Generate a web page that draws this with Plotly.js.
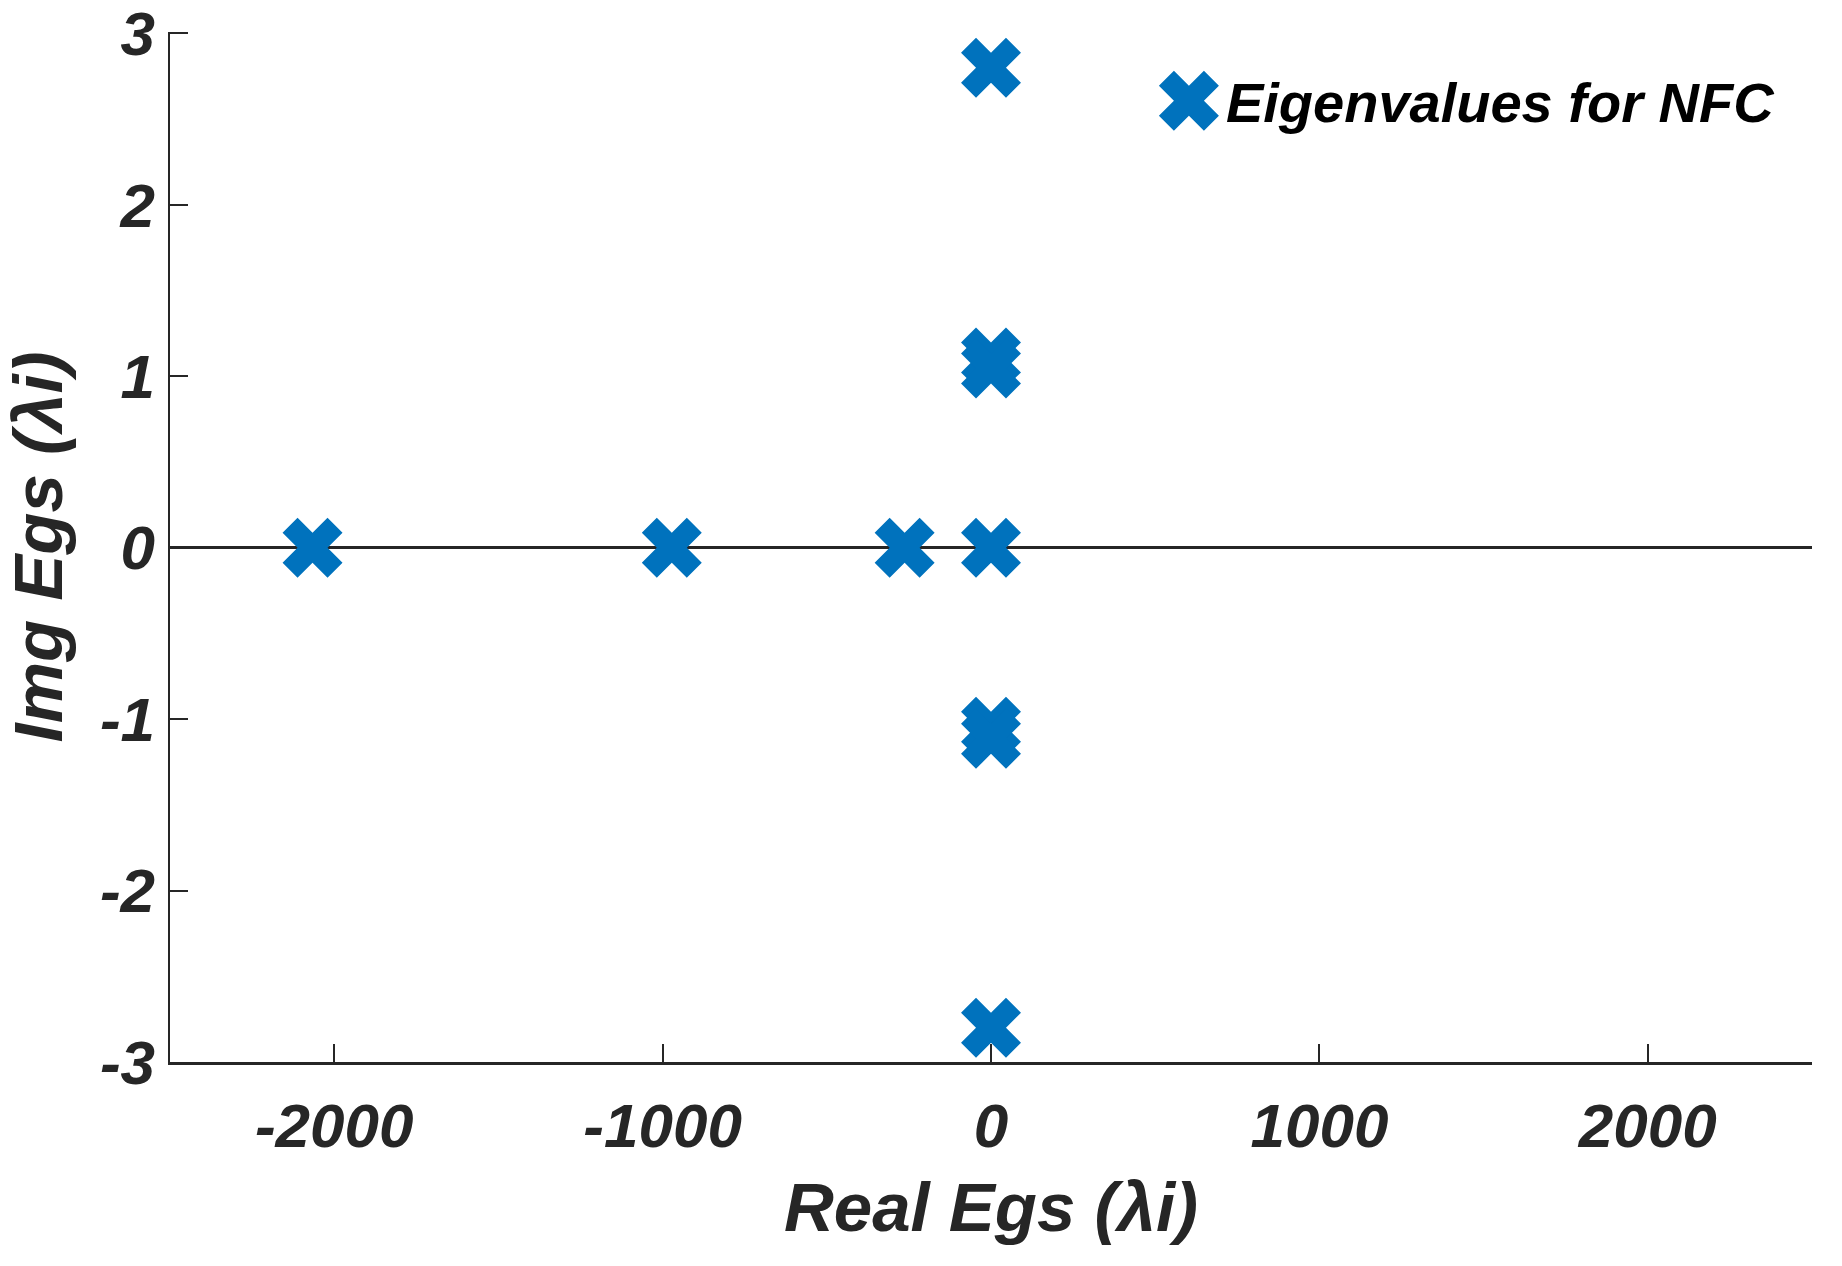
<!DOCTYPE html>
<html><head><meta charset="utf-8">
<script src="https://cdn.plot.ly/plotly-3.0.1.min.js"></script>
<style>html,body{margin:0;padding:0;background:#fff}#chart{width:1842px;height:1266px}</style>
</head><body><div id="chart"></div>
<script>
const seriesName = 'Eigenvalues for NFC';
const realParts = [-2066, -972, -263, 0, 0, 0, 0, 0, 0, 0];
const imagParts = [0, 0, 0, 0, 2.8, 1.11, 1.045, -1.045, -1.115, -2.8];
const xTickVals = [-2000, -1000, 0, 1000, 2000];
const xTickText = ['-2000', '-1000', '0', '1000', '2000'];
const yTickVals = [-3, -2, -1, 0, 1, 2, 3];
const yTickText = ['-3', '-2', '-1', '0', '1', '2', '3'];
const xTitle = 'Real Egs (λi)';
const yTitle = 'Img Egs (λi)';

const FAM = 'Liberation Sans, Arial, Helvetica, sans-serif';
const INK = '#262626';
const MARKER_SIZE = 53;

const data = [{
  type: 'scatter', mode: 'markers', name: seriesName,
  x: realParts, y: imagParts,
  marker: {symbol: 'x', size: MARKER_SIZE, color: '#0072BD', line: {width: 0}},
  hoverinfo: 'x+y'
}];

const axisCommon = {
  showgrid: false, showline: true, linecolor: INK, linewidth: 2.5,
  ticks: 'inside', ticklen: 18, tickwidth: 2, tickcolor: INK,
  tickmode: 'array', automargin: false, ticklabeloverflow: 'allow',
  tickfont: {family: FAM, size: 62, color: INK, weight: 'bold', style: 'italic'}
};

const layout = {
  width: 1842, height: 1266,
  margin: {l: 170, r: 30, t: 32, b: 204, pad: 0},
  paper_bgcolor: '#fff', plot_bgcolor: '#fff',
  showlegend: true,
  legend: {
    x: 0.598, y: 0.975, xanchor: 'left', yanchor: 'top',
    bgcolor: 'rgba(0,0,0,0)', borderwidth: 0, itemwidth: 64,
    font: {family: FAM, size: 56, color: '#000', weight: 'bold', style: 'italic'}
  },
  xaxis: Object.assign({}, axisCommon, {
    range: [-2500, 2500], tickvals: xTickVals, ticktext: xTickText, zeroline: false,
    ticklabelstandoff: 8,
    title: {text: xTitle, standoff: 24, font: {family: FAM, size: 69, color: INK, weight: 'bold', style: 'italic'}}
  }),
  yaxis: Object.assign({}, axisCommon, {
    range: [-3, 3.008], tickvals: yTickVals, ticktext: yTickText,
    zeroline: true, zerolinecolor: INK, zerolinewidth: 2.5,
    title: {text: yTitle, standoff: 22, font: {family: FAM, size: 69, color: INK, weight: 'bold', style: 'italic'}}
  })
};

Plotly.newPlot('chart', data, layout, {staticPlot: true, displayModeBar: false}).then(function (gd) {
  gd.querySelectorAll('.legend .legendpoints path.scatterpts').forEach(function (p) {
    const t = p.getAttribute('transform') || '';
    p.setAttribute('transform', t + ' scale(' + (MARKER_SIZE / 16) + ')');
  });
});
</script>
</body></html>
